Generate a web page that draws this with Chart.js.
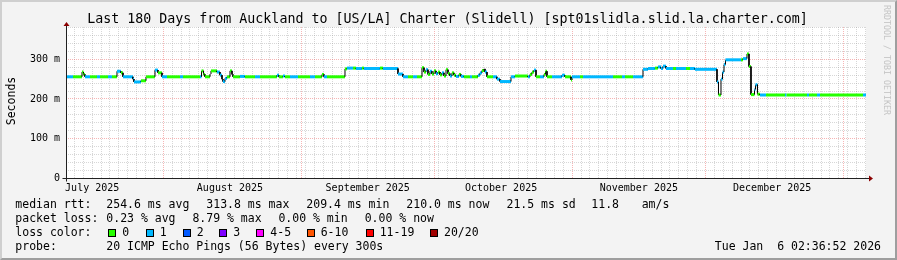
<!DOCTYPE html>
<html>
<head>
<meta charset="utf-8">
<script src="https://cdn.jsdelivr.net/npm/chart.js@4.4.1/dist/chart.umd.min.js"></script>
<style>
  html, body { margin: 0; padding: 0; background: #f3f3f3; }
  #wrap { position: relative; width: 897px; height: 260px; overflow: hidden; background: #f3f3f3;
          font-family: "DejaVu Sans Mono", monospace; color: #000; }
  #chart { position: absolute; left: 0; top: 0; }
  .t { position: absolute; white-space: pre; font-size: 11.5px; line-height: 14px; }
  .box { position: absolute; top: 229px; width: 8px; height: 8px; box-sizing: border-box; border: 1px solid #000; }
  #title { position: absolute; left: -1px; top: 11px; width: 897px; text-align: center; font-size: 13.3px; line-height: 16px; white-space: pre; }
  #ylab { position: absolute; left: -19px; top: 94px; width: 60px; text-align: center; font-size: 11.5px; line-height: 14px; transform: rotate(-90deg); }
  #mark { position: absolute; left: 827px; top: 54px; width: 120px; text-align: center; font-size: 8.3px; line-height: 12px; color: #c4c4c4; transform: rotate(90deg); white-space: pre; }
  #frame { position: absolute; left: 0; top: 0; width: 897px; height: 260px; box-sizing: border-box; border: 2px solid;
           border-color: #cfcfcf #9e9e9e #9e9e9e #cfcfcf; pointer-events: none; }
</style>
</head>
<body>
<div id="wrap">
  <canvas id="chart" width="897" height="260"></canvas>
  <div id="title">Last 180 Days from Auckland to [US/LA] Charter (Slidell) [spt01slidla.slid.la.charter.com]</div>
  <div id="ylab">Seconds</div>
  <div id="mark">RRDTOOL / TOBI OETIKER</div>

  <div class="t" style="left:15.3px;top:197.3px">median rtt:</div>
  <div class="t" style="left:106.3px;top:197.3px">254.6 ms avg</div>
  <div class="t" style="left:206.3px;top:197.3px">313.8 ms max</div>
  <div class="t" style="left:306.3px;top:197.3px">209.4 ms min</div>
  <div class="t" style="left:406.3px;top:197.3px">210.0 ms now</div>
  <div class="t" style="left:506.5px;top:197.3px">21.5 ms sd</div>
  <div class="t" style="left:591.3px;top:197.3px">11.8</div>
  <div class="t" style="left:641.7px;top:197.3px">am/s</div>

  <div class="t" style="left:15.3px;top:211.3px">packet loss:</div>
  <div class="t" style="left:106.3px;top:211.3px">0.23 % avg</div>
  <div class="t" style="left:192.4px;top:211.3px">8.79 % max</div>
  <div class="t" style="left:278.4px;top:211.3px">0.00 % min</div>
  <div class="t" style="left:364.7px;top:211.3px">0.00 % now</div>

  <div class="t" style="left:15.3px;top:225.3px">loss color:</div>
  <div id="losslegend"></div>

  <div class="t" style="left:15.3px;top:239px">probe:</div>
  <div class="t" style="left:106.3px;top:239px">20 ICMP Echo Pings (56 Bytes) every 300s</div>
  <div class="t" style="right:16px;top:239px">Tue Jan  6 02:36:52 2026</div>
  <div id="frame"></div>
</div>
<script>
// loss colour legend (smokeping palette)
var lossNames = ['0', '1', '2', '3', '4-5', '6-10', '11-19', '20/20'];
var lossColors = ['#26ff00', '#00b8ff', '#0059ff', '#7e00ff', '#ff00ff', '#ff5500', '#ff0000', '#a10000'];
var lossBoxX = [108.3, 145.7, 182.7, 219.3, 256.3, 306.7, 365.7, 430];

// time axis: days since 1 July 2025, window = 180 days ending 6 Jan 02:36
var xStart = 9.108;
var xEnd = 189.108;
var monthStarts = [31, 62, 92, 123, 153, 184];
var monthMids = [15, 46, 77, 107, 138, 168];
var monthLabels = ['July 2025', 'August 2025', 'September 2025', 'October 2025', 'November 2025', 'December 2025'];

// median rtt (ms); each value holds until the next day
var days = [9.11, 10.68, 12.71, 13.05, 13.38, 14.51, 16.08, 16.76, 18.56, 19.46,
  20.58, 21.48, 21.93, 24.18, 24.41, 25.98, 27.11, 29.13, 29.81, 30.71,
  31.83, 34.76, 35.43, 39.26, 39.6, 40.05, 40.38, 41.51, 41.73, 43.08,
  43.76, 44.21, 44.43, 44.88, 45.33, 46.01, 46.46, 46.68, 48.26, 49.38,
  51.63, 52.76, 56.58, 57.03, 57.93, 58.38, 59.51, 61.31, 64.01, 65.13,
  66.71, 67.16, 67.83, 71.88, 72.33, 73.68, 74.36, 75.71, 76.16, 79.76,
  80.43, 83.81, 84.93, 86.06, 87.18, 88.08, 89.21, 89.66, 90.11, 90.56,
  91.01, 91.46, 91.91, 92.36, 92.81, 93.26, 93.71, 94.16, 94.61, 95.06,
  95.51, 95.96, 96.41, 96.86, 97.53, 97.98, 98.66, 100.01, 100.46, 101.81,
  102.26, 102.71, 103.16, 103.38, 103.83, 105.18, 106.08, 106.76, 109.23, 110.13,
  113.06, 113.51, 113.96, 114.41, 114.86, 115.76, 116.66, 117.0, 117.33, 118.46,
  120.71, 121.38, 122.73, 122.96, 124.76, 125.43, 132.18, 134.21, 134.88, 136.68,
  138.93, 140.06, 141.63, 142.31, 142.98, 143.43, 144.11, 145.68, 146.36, 148.61,
  149.51, 150.63, 155.58, 155.92, 156.48, 156.82, 157.16, 157.49, 160.98, 161.43,
  162.33, 162.78, 163.23, 164.02, 164.24, 164.69, 165.26, 166.61, 170.88, 171.22,
  175.83, 176.28, 178.08, 178.76, 188.43];
var rtt = [256, 256, 268, 262, 256, 256, 256, 256, 256, 256,
  270, 266, 256, 250, 243, 246, 256, 273, 266, 256,
  256, 256, 256, 256, 271, 262, 256, 263, 271, 268,
  260, 250, 244, 252, 256, 271, 262, 256, 257, 256,
  256, 256, 260, 256, 258, 256, 256, 256, 256, 256,
  262, 256, 256, 276, 278, 278, 277, 278, 277, 278,
  277, 263, 256, 256, 256, 256, 279, 268, 274, 262,
  270, 263, 271, 264, 268, 261, 266, 258, 274, 264,
  258, 266, 260, 257, 262, 257, 256, 256, 256, 260,
  266, 272, 276, 268, 256, 256, 250, 244, 256, 258,
  256, 262, 268, 273, 256, 256, 262, 270, 256, 256,
  260, 256, 248, 256, 256, 256, 256, 256, 256, 256,
  275, 277, 278, 281, 277, 283, 277, 277, 277, 277,
  277, 275, 243, 210, 250, 268, 287, 299, 299, 302,
  313.8, 282, 211, 224, 236, 212, 210, 210, 210, 210,
  210, 210, 210, 210, 210];
// lost pings out of 20 for each step (index into lossColors)
var loss = [1, 0, 0, 0, 1, 0, 1, 0, 1, 0,
  1, 0, 1, 1, 1, 0, 0, 1, 0, 1,
  0, 1, 0, 1, 0, 0, 0, 1, 0, 1,
  1, 1, 1, 1, 0, 0, 0, 0, 1, 0,
  1, 0, 1, 0, 1, 0, 1, 0, 1, 0,
  0, 1, 0, 0, 1, 0, 1, 0, 1, 0,
  1, 1, 1, 0, 1, 0, 0, 0, 1, 0,
  1, 0, 0, 1, 0, 0, 1, 0, 0, 0,
  1, 0, 0, 1, 0, 1, 0, 1, 0, 1,
  1, 0, 0, 1, 0, 1, 1, 1, 1, 0,
  1, 0, 0, 1, 0, 1, 0, 0, 0, 1,
  1, 0, 0, 1, 0, 1, 0, 1, 0, 1,
  1, 1, 0, 1, 1, 1, 1, 0, 1, 0,
  1, 1, 1, 0, 1, 1, 1, 1, 0, 1,
  0, 0, 0, 1, 1, 0, 1, 0, 1, 0,
  1, 0, 1, 0, 1];

// loss colour boxes
var legendHost = document.getElementById('losslegend');
lossNames.forEach(function(name, i) {
    var b = document.createElement('div');
    b.className = 'box';
    b.style.left = lossBoxX[i] + 'px';
    b.style.background = lossColors[i];
    legendHost.appendChild(b);
    var t = document.createElement('div');
    t.className = 't';
    t.style.left = (lossBoxX[i] + 14) + 'px';
    t.style.top = '225.3px';
    t.textContent = name;
    legendHost.appendChild(t);
});

// step line: a flat piece for every value, joined by vertical pieces
var points = [];
for (var i = 0; i < days.length; i++) {
    var next = i + 1 < days.length ? days[i + 1] : xEnd;
    points.push({x: days[i], y: rtt[i]});
    points.push({x: next, y: rtt[i]});
}

var minorGrid = 'rgba(150,150,150,0.38)';
var majorGrid = 'rgba(235,90,90,0.45)';

var plotBackground = {
    id: 'plotBackground',
    beforeDraw: function(chart) {
        var a = chart.chartArea, c = chart.ctx;
        c.save();
        c.fillStyle = '#ffffff';
        c.fillRect(a.left, a.top, a.right - a.left, a.bottom - a.top);
        c.restore();
    }
};

var arrowAxes = {
    id: 'arrowAxes',
    afterDraw: function(chart) {
        var a = chart.chartArea, c = chart.ctx;
        var x0 = Math.round(a.left) + 0.5, y0 = Math.round(a.bottom) + 0.5;
        c.save();
        c.strokeStyle = '#202020';
        c.lineWidth = 1;
        c.beginPath();
        c.moveTo(x0, a.top - 2);
        c.lineTo(x0, y0 + 3);
        c.moveTo(x0 - 4, y0);
        c.lineTo(a.right + 3, y0);
        c.stroke();
        c.fillStyle = '#8b0000';
        c.beginPath();
        c.moveTo(x0, a.top - 5);
        c.lineTo(x0 - 3, a.top - 1);
        c.lineTo(x0 + 3, a.top - 1);
        c.closePath();
        c.fill();
        c.beginPath();
        c.moveTo(a.right + 7, y0);
        c.lineTo(a.right + 3, y0 - 3);
        c.lineTo(a.right + 3, y0 + 3);
        c.closePath();
        c.fill();
        c.restore();
    }
};

var tickFont = {family: 'DejaVu Sans Mono', size: 10};

new Chart(document.getElementById('chart'), {
    type: 'line',
    data: {
        datasets: [{
            data: points,
            borderWidth: 3,
            borderColor: lossColors[0],
            pointRadius: 0,
            tension: 0,
            segment: {
                borderColor: function(ctx) {
                    if (ctx.p0.parsed.x === ctx.p1.parsed.x) return '#000000';
                    return lossColors[loss[Math.floor(ctx.p0DataIndex / 2)]];
                },
                borderWidth: function(ctx) {
                    return ctx.p0.parsed.x === ctx.p1.parsed.x ? 1 : 3;
                }
            }
        }]
    },
    options: {
        responsive: false,
        animation: false,
        devicePixelRatio: 1,
        layout: {padding: {left: 0, right: 31, top: 27, bottom: 62}},
        plugins: {legend: {display: false}, tooltip: {enabled: false}, title: {display: false}},
        scales: {
            x: {
                type: 'linear',
                min: xStart,
                max: xEnd,
                afterFit: function(scale) { scale.height = 20; },
                afterBuildTicks: function(scale) {
                    var vals = [];
                    for (var d = 11; d <= 189; d += 2) vals.push(d);
                    monthStarts.concat(monthMids).forEach(function(v) {
                        if (vals.indexOf(v) < 0) vals.push(v);
                    });
                    vals.sort(function(a, b) { return a - b; });
                    scale.ticks = vals.map(function(v) { return {value: v}; });
                },
                ticks: {
                    autoSkip: false,
                    maxRotation: 0,
                    minRotation: 0,
                    padding: 4,
                    color: '#000',
                    font: tickFont,
                    callback: function(v) {
                        var k = monthMids.indexOf(v);
                        return k >= 0 ? monthLabels[k] : '';
                    }
                },
                grid: {
                    drawTicks: false,
                    lineWidth: 1,
                    color: function(ctx) {
                        if (!ctx.tick) return 'rgba(0,0,0,0)';
                        var v = ctx.tick.value;
                        if (monthStarts.indexOf(v) >= 0) return majorGrid;
                        if (v % 2 === 1) return minorGrid;
                        return 'rgba(0,0,0,0)';
                    }
                },
                border: {display: false, dash: [1, 1]}
            },
            y: {
                min: 0,
                max: 382,
                afterFit: function(scale) { scale.width = 66; },
                ticks: {
                    stepSize: 20,
                    includeBounds: false,
                    autoSkip: false,
                    padding: 6,
                    color: '#000',
                    font: tickFont,
                    callback: function(v) {
                        if (v % 100 !== 0) return '';
                        return v === 0 ? '0' : v + ' m';
                    }
                },
                grid: {
                    drawTicks: false,
                    lineWidth: 1,
                    color: function(ctx) {
                        if (!ctx.tick) return 'rgba(0,0,0,0)';
                        var v = ctx.tick.value;
                        return (v > 0 && v % 100 === 0) ? majorGrid : minorGrid;
                    }
                },
                border: {display: false, dash: [1, 1]}
            }
        }
    },
    plugins: [plotBackground, arrowAxes]
});
</script>
</body>
</html>
